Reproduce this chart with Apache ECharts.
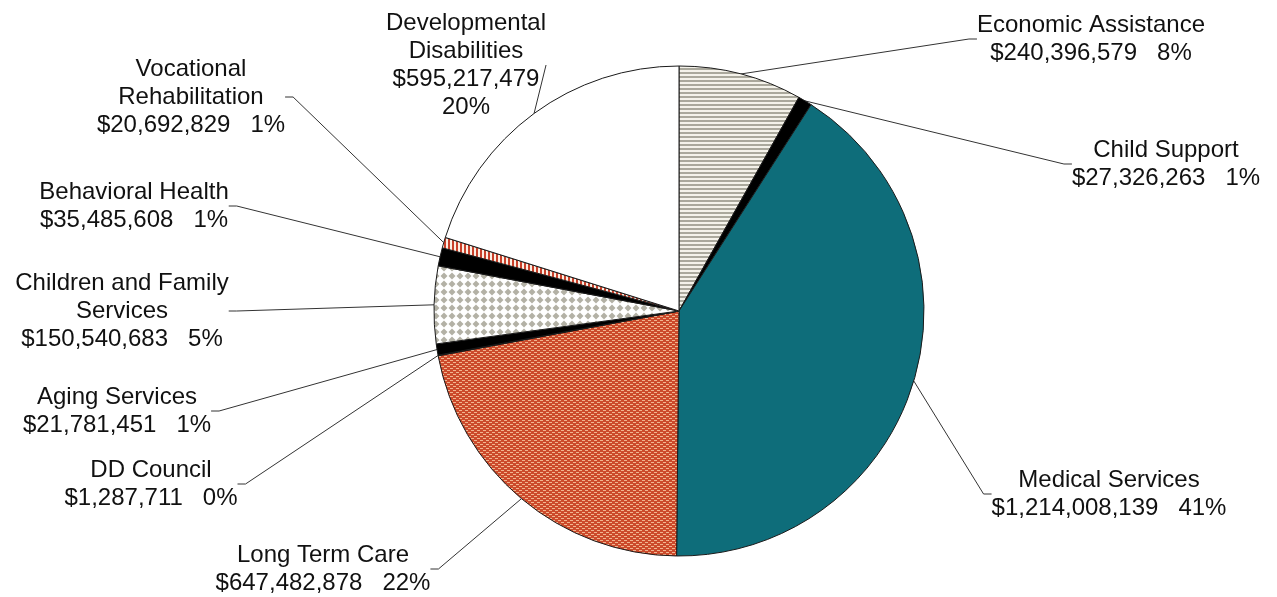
<!DOCTYPE html>
<html>
<head>
<meta charset="utf-8">
<script src="https://cdn.jsdelivr.net/npm/echarts@6/dist/echarts.min.js"></script>
<style>
  html, body { margin: 0; padding: 0; background: #fff; }
  #pie { width: 1277px; height: 597px; }
</style>
</head>
<body>
<div id="pie"></div>
<script>
// 各项预算（顺时针，从12点方向开始）
const categories = [
    'Economic Assistance', 'Child Support', 'Medical Services', 'Long Term Care',
    'DD Council', 'Aging Services', 'Children and Family\nServices',
    'Behavioral Health', 'Vocational\nRehabilitation', 'Developmental\nDisabilities'
]
const amounts = [
    240396579, 27326263, 1214008139, 647482878,
    1287711, 21781451, 150540683,
    35485608, 20692829, 595217479
]

// 标签位置 [中心x, 顶部y]
const labelSpots = [
    [1091, 11], [1166, 136], [1109, 466], [323, 541],
    [151, 456], [117, 383], [122, 269],
    [134, 178], [191, 55], [466, 9]
]

// 生成填充图案
function makePattern(w, h, draw) {
    const c = document.createElement('canvas')
    c.width = w
    c.height = h
    draw(c.getContext('2d'))
    return { image: c, repeat: 'repeat' }
}

const stripes = makePattern(4, 4, function (ctx) {
    ctx.fillStyle = '#f4f2ea'
    ctx.fillRect(0, 0, 4, 4)
    ctx.fillStyle = '#aaa89c'
    ctx.fillRect(0, 0, 4, 2)
})

const dots = makePattern(6, 4, function (ctx) {
    ctx.fillStyle = '#cc4a2b'
    ctx.fillRect(0, 0, 6, 4)
    ctx.fillStyle = '#f1b48f'
    ctx.fillRect(0, 0, 3, 1)
    ctx.fillRect(3, 2, 3, 1)
})

const diamonds = makePattern(8, 8, function (ctx) {
    ctx.fillStyle = '#ffffff'
    ctx.fillRect(0, 0, 8, 8)
    ctx.fillStyle = '#b3b1a5'
    ctx.beginPath()
    ctx.moveTo(4, 0.5)
    ctx.lineTo(7.5, 4)
    ctx.lineTo(4, 7.5)
    ctx.lineTo(0.5, 4)
    ctx.closePath()
    ctx.fill()
})

const redStripes = makePattern(4, 4, function (ctx) {
    ctx.fillStyle = '#fbeee2'
    ctx.fillRect(0, 0, 4, 4)
    ctx.fillStyle = '#c8402a'
    ctx.fillRect(0, 0, 2, 4)
})

const fills = [stripes, '#000000', '#0e6d7a', dots, '#000000', '#000000', diamonds, '#000000', redStripes, '#ffffff']

const myChart = echarts.init(document.querySelector('#pie'))

const option = {
    animation: false,
    series: [{
        type: 'pie',
        center: [679, 311],
        radius: 245,
        startAngle: 90,
        clockwise: true,
        avoidLabelOverlap: false,
        percentPrecision: 0,
        data: categories.map(function (name, i) {
            return {
                name: name,
                value: amounts[i],
                itemStyle: { color: fills[i] }
            }
        }),
        itemStyle: {
            borderColor: '#1a1a1a',
            borderWidth: 1
        },
        label: {
            show: true,
            position: 'outside',
            color: '#111',
            fontFamily: 'Liberation Sans, Arial, sans-serif',
            fontSize: 24,
            lineHeight: 28,
            align: 'center',
            formatter: function (p) {
                const money = '$' + p.value.toLocaleString('en-US')
                if (p.dataIndex === 9) {
                    return p.name + '\n' + money + '\n' + p.percent + '%'
                }
                return p.name + '\n' + money + '   ' + p.percent + '%'
            }
        },
        labelLine: {
            show: true,
            length: 10,
            length2: 8,
            lineStyle: { color: '#333', width: 1 }
        },
        labelLayout: function (params) {
            const spot = labelSpots[params.dataIndex]
            return {
                x: spot[0],
                y: spot[1],
                align: 'center',
                verticalAlign: 'top'
            }
        }
    }]
}

myChart.setOption(option)
</script>
</body>
</html>
